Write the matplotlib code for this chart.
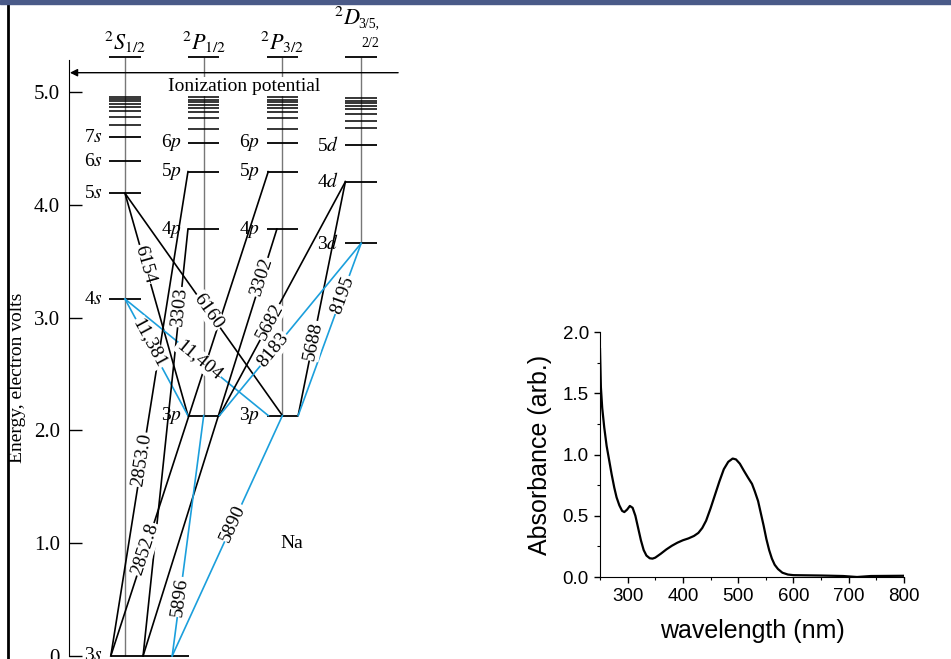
import numpy as np
import matplotlib
matplotlib.use('Agg')
import matplotlib.pyplot as plt
from matplotlib.lines import Line2D
from matplotlib.patches import Rectangle

plt.rcParams['mathtext.fontset'] = 'stix'

# Grotrian diagram of Na, energies in eV as drawn in the picture
s_names = ['3s', '4s', '5s', '6s', '7s']
s_energy = [0.0, 3.166, 4.104, 4.390, 4.601]
p_names = ['3p', '4p', '5p', '6p']
p_energy = [2.132, 3.787, 4.296, 4.553]
d_names = ['3d', '4d', '5d']
d_energy = [3.660, 4.207, 4.532]
# closely packed higher levels near the series limit
s_high = [4.713, 4.778, 4.831, 4.867, 4.894, 4.920, 4.941, 4.961]
p_high = [4.674, 4.775, 4.828, 4.863, 4.890, 4.914, 4.934, 4.956]
d_high = [4.680, 4.749, 4.805, 4.852, 4.881, 4.905, 4.926, 4.947]
series_top = 5.313
ionization = 5.174

# transitions (wavelengths in Angstrom)
trans_labels = ['6154', '6160', '11,381', '11,404', '2853.0', '2852.8', '3303',
                '3302', '5896', '5890', '5682', '5688', '8183', '8195']
trans_from = ['5s', '5s', '4s', '4s', '3s', '3s', '3s', '3s', '3s', '3s',
              '3p', '3p', '3p', '3p']
trans_to = ['3p', '3p', '3p', '3p', '5p', '5p', '4p', '4p', '3p', '3p',
            '4d', '4d', '3d', '3d']
trans_blue = [False, False, True, True, False, False, False, False, True, True,
              False, False, True, True]

# absorbance spectrum
wavelength = [250, 251.6, 254, 257.7, 262, 266.7, 271, 275.8, 280, 285, 290, 294,
              299, 304, 309, 314, 319, 324, 329, 334, 340, 345, 350, 360, 370,
              380, 390, 400, 410, 420, 428, 435, 442, 450, 458, 466, 474, 482,
              490, 496, 503, 510, 518, 525, 530, 536, 541, 546, 551, 556, 561,
              566, 572, 580, 590, 600, 650, 690, 715, 740, 800]
absorbance = [1.86, 1.55, 1.38, 1.22, 1.07, 0.95, 0.84, 0.73, 0.65, 0.585, 0.54,
              0.53, 0.55, 0.58, 0.565, 0.50, 0.40, 0.30, 0.22, 0.175, 0.153, 0.15,
              0.158, 0.19, 0.225, 0.255, 0.28, 0.30, 0.315, 0.335, 0.36, 0.40,
              0.46, 0.56, 0.67, 0.78, 0.88, 0.94, 0.967, 0.96, 0.925, 0.87, 0.81,
              0.76, 0.70, 0.62, 0.52, 0.42, 0.31, 0.22, 0.15, 0.10, 0.065, 0.035,
              0.02, 0.015, 0.012, 0.008, 0.0, 0.008, 0.01]

level_energy = dict(zip(s_names + p_names + d_names, s_energy + p_energy + d_energy))

# layout of the diagram (x in column units: S=0, P1/2=1, P3/2=2, D=3)
from_x = [0, 0, 0, 0, -0.18, -0.18, 0.23, 0.23, 0.6, 0.6, 1.2, 2.2, 1.2, 2.2]
to_x = [0.8, 2.0, 0.8, 1.82, 0.8, 1.82, 0.8, 1.93, 1.0, 2.0, 2.8, 2.8, 3.0, 3.0]
label_t = [0.32, 0.53, 0.38, 0.52, 0.405, 0.22, 0.817, 0.887, 0.245, 0.553,
           0.40, 0.32, 0.38, 0.70]
blue = '#1b9fdc'
serif = 'Liberation Serif'

fig = plt.figure(figsize=(9.51, 6.59), dpi=100)

ax = fig.add_axes([0, 0, 420 / 951, 1])
ax.set_xlim(-1.588, 3.748)
ax.set_ylim(-0.028, 5.819)
for side in ['top', 'right', 'bottom']:
    ax.spines[side].set_visible(False)
ax.spines['left'].set_position(('data', -0.712))
ax.spines['left'].set_bounds(0, 5.29)
ax.set_xticks([])
ax.set_yticks([0, 1, 2, 3, 4, 5])
ax.set_yticklabels(['0', '1.0', '2.0', '3.0', '4.0', '5.0'], fontfamily=serif)
ax.tick_params(axis='y', direction='in', length=9.4, width=1, pad=6.5, labelsize=15)
ax.patch.set_alpha(0)

ax.text(-1.372, 2.465, 'Energy, electron volts', rotation=90, ha='center',
        va='center', fontsize=14, fontfamily=serif)

# columns
columns = [(0, s_names, s_energy, s_high), (1, p_names, p_energy, p_high),
           (2, p_names, p_energy, p_high), (3, d_names, d_energy, d_high)]
for c, names, energies, high in columns:
    ax.vlines(c, min(energies), series_top, color='#777777', lw=1, zorder=1)
    ax.hlines(series_top, c - 0.2, c + 0.2, color='black', lw=1.3, zorder=2)
    ax.hlines(high, c - 0.2, c + 0.2, color='black', lw=1.1, zorder=2)
    for n, e in zip(names, energies):
        if n == '3s':
            ax.hlines(e, -0.18, 0.81, color='black', lw=1.3, zorder=2)
        else:
            ax.hlines(e, c - 0.2, c + 0.2, color='black', lw=1.3, zorder=2)
        ax.text(c - 0.28, e, n[0] + r'$\mathit{' + n[1] + '}$', ha='right', va='center',
                fontsize=14, fontfamily=serif)

# column headers
for c, lab in zip([0, 1, 2], [r'$^2S_{1/2}$', r'$^2P_{1/2}$', r'$^2P_{3/2}$']):
    ax.text(c, 5.446, lab, ha='center', va='center', fontsize=16)
ax.text(2.99, 5.66, r'$^2D$', ha='right', va='center', fontsize=16)
ax.text(2.96, 5.605, '3/5,', ha='left', va='center', fontsize=10, fontfamily=serif)
ax.text(3.0, 5.43, '2/2', ha='left', va='center', fontsize=10, fontfamily=serif)

# ionization potential
ax.annotate('', xy=(-0.70, ionization), xytext=(3.47, ionization),
            arrowprops=dict(arrowstyle='-|>', lw=1, color='black',
                            mutation_scale=11, shrinkA=0, shrinkB=0))
ax.text(1.518, 5.011, 'Ionization potential', ha='center', va='baseline',
        fontsize=14, fontfamily=serif, zorder=4,
        bbox=dict(facecolor='white', edgecolor='none', pad=1))

# transitions
for lab, a, b, isblue, x0, x1, t in zip(trans_labels, trans_from, trans_to, trans_blue,
                                        from_x, to_x, label_t):
    e0, e1 = level_energy[a], level_energy[b]
    col = blue if isblue else 'black'
    ax.plot([x0, x1], [e0, e1], color=col, lw=1.2, zorder=3)
    ang = np.degrees(np.arctan2(e1 - e0, x1 - x0))
    ax.text(x0 + t * (x1 - x0), e0 + t * (e1 - e0), lab, rotation=ang,
            transform_rotates_text=True, rotation_mode='anchor',
            ha='center', va='center', fontsize=14, fontfamily=serif, zorder=5,
            bbox=dict(facecolor='white', edgecolor='none', pad=0.6))

ax.text(2.12, 1.0, 'Na', ha='center', va='center', fontsize=14, fontfamily=serif)

# absorbance spectrum
ax2 = fig.add_axes([600 / 951, 1 - 577 / 659, 304 / 951, 245 / 659])
ax2.plot(wavelength, absorbance, color='black', lw=1.6)
ax2.set_xlim(250, 800)
ax2.set_ylim(0, 2.0)
ax2.spines['top'].set_visible(False)
ax2.spines['right'].set_visible(False)
ax2.set_xticks([300, 400, 500, 600, 700, 800])
ax2.set_yticks([0.0, 0.5, 1.0, 1.5, 2.0])
ax2.set_yticklabels(['0.0', '0.5', '1.0', '1.5', '2.0'])
ax2.set_xticks(np.arange(250, 801, 50), minor=True)
ax2.set_yticks(np.arange(0, 2.01, 0.25), minor=True)
ax2.tick_params(which='major', length=4, width=1, labelsize=13.5, pad=4)
ax2.tick_params(which='minor', length=2, width=0.8)
for lbl in ax2.get_xticklabels() + ax2.get_yticklabels():
    lbl.set_fontfamily('Liberation Sans')
ax2.set_xlabel('wavelength (nm)', fontsize=18, fontfamily='Liberation Sans', labelpad=10)
ax2.set_ylabel('Absorbance (arb.)', fontsize=18, fontfamily='Liberation Sans', labelpad=8)

# frame decorations of the slide
fig.patches.append(Rectangle((0, 1 - 4 / 659), 1, 4 / 659, transform=fig.transFigure,
                             color='#4a5a88', zorder=10))
fig.add_artist(Line2D([8 / 951, 8 / 951], [0, 1 - 4 / 659], transform=fig.transFigure,
                      color='black', lw=2))

fig.savefig('out.png', dpi=100)
